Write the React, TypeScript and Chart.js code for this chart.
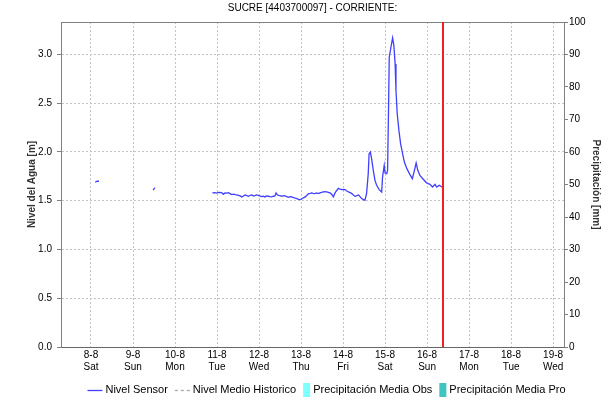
import React, { useEffect, useRef } from "react";
import { Chart, registerables } from "chart.js";

Chart.register(...registerables);

const TITLE = "SUCRE [4403700097] - CORRIENTE:";
const LEFT_AXIS_TITLE = "Nivel del Agua [m]";
const RIGHT_AXIS_TITLE = "Precipitación [mm]";

// x axis: days counted from 8-8 00:00
const dayDates = ["8-8", "9-8", "10-8", "11-8", "12-8", "13-8", "14-8", "15-8", "16-8", "17-8", "18-8", "19-8"];
const dayNames = ["Sat", "Sun", "Mon", "Tue", "Wed", "Thu", "Fri", "Sat", "Sun", "Mon", "Tue", "Wed"];
const xRange = [-0.714, 11.26];
const nowDay = 8.39;

const levelRange = [0, 3.333];
const levelStep = 0.5;
const precipRange = [0, 100];
const precipStep = 10;

// Nivel Sensor (null level = gap in the record)
const sensorDays = [
  0.1, 0.145, 0.19, 0.8,
  1.48, 1.52, 2.2,
  2.89, 2.95, 2.99, 3.04, 3.11, 3.15, 3.19, 3.23, 3.27, 3.31, 3.35, 3.39, 3.43, 3.47, 3.51, 3.55, 3.59, 3.63,
  3.67, 3.71, 3.75, 3.79, 3.83, 3.87, 3.9, 3.94, 3.98, 4.02, 4.06, 4.1, 4.14, 4.18, 4.22, 4.26, 4.3, 4.34,
  4.38, 4.405, 4.43, 4.46, 4.5, 4.54, 4.58, 4.62, 4.66, 4.7, 4.74, 4.78, 4.82, 4.86, 4.9, 4.94, 4.99, 5.04,
  5.1, 5.14, 5.18, 5.22, 5.25, 5.29, 5.33, 5.37, 5.41, 5.45, 5.49, 5.53, 5.57, 5.61, 5.65, 5.69, 5.73, 5.77,
  5.81, 5.85, 5.89, 5.93, 5.97, 6.01, 6.05, 6.09, 6.13, 6.17, 6.21, 6.25, 6.29, 6.33, 6.37, 6.41, 6.44, 6.49,
  6.52, 6.56, 6.6, 6.62, 6.65, 6.68, 6.72, 6.76, 6.8, 6.86, 6.92, 6.94, 6.98, 7.0, 7.04, 7.06, 7.08, 7.1,
  7.14, 7.18, 7.21, 7.24, 7.26, 7.29, 7.33, 7.37, 7.41, 7.46, 7.52, 7.58, 7.65, 7.7, 7.74, 7.78, 7.83, 7.91,
  7.99, 8.07, 8.13, 8.19, 8.23, 8.29, 8.33, 8.38,
];
const sensorLevels = [
  1.69, 1.7, 1.7, null,
  1.61, 1.635, null,
  1.58, 1.583, 1.578, 1.586, 1.583, 1.566, 1.58, 1.578, 1.583, 1.573, 1.563, 1.568, 1.563, 1.56, 1.556, 1.549, 1.539, 1.549,
  1.559, 1.552, 1.546, 1.556, 1.559, 1.549, 1.552, 1.559, 1.556, 1.549, 1.542, 1.546, 1.539, 1.549, 1.546, 1.542, 1.539, 1.546,
  1.549, 1.58, 1.563, 1.556, 1.552, 1.546, 1.552, 1.549, 1.542, 1.535, 1.542, 1.539, 1.532, 1.528, 1.522, 1.515, 1.511, 1.525,
  1.539, 1.556, 1.573, 1.576, 1.58, 1.576, 1.573, 1.58, 1.573, 1.58, 1.586, 1.59, 1.593, 1.59, 1.586, 1.58, 1.566, 1.539,
  1.58, 1.605, 1.627, 1.62, 1.614, 1.617, 1.614, 1.6, 1.59, 1.583, 1.573, 1.556, 1.546, 1.552, 1.559, 1.54, 1.522, 1.512,
  1.505, 1.573, 1.778, 1.982, 1.999, 1.931, 1.812, 1.709, 1.658, 1.614, 1.59, 1.743, 1.863, 1.784, 1.778, 1.812, 2.357, 2.972,
  3.074, 3.17, 3.091, 2.903, 2.63, 2.392, 2.221, 2.085, 1.999, 1.897, 1.829, 1.778, 1.726, 1.812, 1.887, 1.812, 1.76, 1.72,
  1.682, 1.668, 1.641, 1.668, 1.641, 1.658, 1.648, 1.634,
];

// Nivel Medio Historico and precipitation: no values in this period
const historicDays: number[] = [];
const historicLevels: number[] = [];
const precipObsDays: number[] = [];
const precipObsValues: number[] = [];
const precipProDays: number[] = [];
const precipProValues: number[] = [];

const FONT = "'Liberation Sans', Arial, sans-serif";
const SENSOR_COLOR = "rgb(64,64,255)";
const HIST_COLOR = "#a8a8a8";
const OBS_COLOR = "#80ffff";
const PRO_COLOR = "#40c4c0";
const GRID_COLOR = "#c4c4c4";
const AXIS_COLOR = "#808080";
const NOW_COLOR = "#f02020";

const pairs = (xs: number[], ys: (number | null)[]) => xs.map((x, i) => ({ x, y: ys[i] }));

const framePlugin = {
  id: "frameAndNow",
  afterDatasetsDraw(chart: any) {
    const { ctx, chartArea, scales } = chart;
    ctx.save();
    ctx.setLineDash([]);
    ctx.strokeStyle = AXIS_COLOR;
    ctx.lineWidth = 1;
    ctx.beginPath();
    ctx.moveTo(chartArea.left, chartArea.top + 0.5);
    ctx.lineTo(chartArea.right, chartArea.top + 0.5);
    ctx.stroke();
    const xNow = Math.round(scales.x.getPixelForValue(nowDay));
    ctx.strokeStyle = NOW_COLOR;
    ctx.lineWidth = 2;
    ctx.beginPath();
    ctx.moveTo(xNow, chartArea.top);
    ctx.lineTo(xNow, chartArea.bottom);
    ctx.stroke();
    ctx.restore();
  },
};

const titleLegendPlugin = {
  id: "titleLegend",
  afterDraw(chart: any) {
    const { ctx, chartArea } = chart;
    ctx.save();
    ctx.fillStyle = "#000";
    ctx.font = `10px ${FONT}`;
    ctx.textAlign = "center";
    ctx.textBaseline = "middle";
    ctx.fillText(TITLE, (chartArea.left + chartArea.right) / 2, 8.5);

    ctx.font = `11px ${FONT}`;
    ctx.textAlign = "left";
    const items = chart.data.datasets.map((ds: any) => ({
      label: ds.label,
      kind: ds.type === "bar" ? "box" : "line",
      color: ds.type === "bar" ? ds.backgroundColor : ds.borderColor,
      dash: ds.borderDash || [],
    }));
    const symW = (k: string) => (k === "box" ? 7 : 15);
    const gapSym = 3;
    const gapItem = 7;
    let total = 0;
    items.forEach((it: any, i: number) => {
      total += symW(it.kind) + gapSym + ctx.measureText(it.label).width + (i < items.length - 1 ? gapItem : 0);
    });
    let x = chart.width / 2 + 20 - total / 2;
    const y = 390;
    items.forEach((it: any) => {
      if (it.kind === "line") {
        ctx.strokeStyle = it.color;
        ctx.lineWidth = 1.3;
        ctx.setLineDash(it.dash);
        ctx.beginPath();
        ctx.moveTo(x, y + 0.5);
        ctx.lineTo(x + 15, y + 0.5);
        ctx.stroke();
        ctx.setLineDash([]);
      } else {
        ctx.fillStyle = it.color;
        ctx.fillRect(x, y - 7, 7, 14);
      }
      x += symW(it.kind) + gapSym;
      ctx.fillStyle = "#000";
      ctx.fillText(it.label, x, y);
      x += ctx.measureText(it.label).width + gapItem;
    });
    ctx.restore();
  },
};

export default function App() {
  const ref = useRef<HTMLCanvasElement | null>(null);
  useEffect(() => {
    if (!ref.current) return;
    const chart = new Chart(ref.current, {
      type: "line",
      data: {
        datasets: [
          {
            label: "Nivel Sensor",
            data: pairs(sensorDays, sensorLevels) as any,
            borderColor: SENSOR_COLOR,
            backgroundColor: SENSOR_COLOR,
            borderWidth: 1.3,
            pointRadius: 0,
            tension: 0,
            spanGaps: false,
            yAxisID: "y",
          },
          {
            label: "Nivel Medio Historico",
            data: pairs(historicDays, historicLevels) as any,
            borderColor: HIST_COLOR,
            backgroundColor: HIST_COLOR,
            borderDash: [3, 3],
            borderWidth: 1,
            pointRadius: 0,
            yAxisID: "y",
          },
          {
            type: "bar" as any,
            label: "Precipitación Media Obs",
            data: pairs(precipObsDays, precipObsValues) as any,
            backgroundColor: OBS_COLOR,
            borderColor: OBS_COLOR,
            yAxisID: "y2",
          },
          {
            type: "bar" as any,
            label: "Precipitación Media Pro",
            data: pairs(precipProDays, precipProValues) as any,
            backgroundColor: PRO_COLOR,
            borderColor: PRO_COLOR,
            yAxisID: "y2",
          },
        ],
      },
      options: {
        responsive: false,
        animation: false,
        devicePixelRatio: 1,
        layout: { padding: { top: 22, bottom: 23, left: 0, right: 0 } },
        plugins: { legend: { display: false }, title: { display: false }, tooltip: { enabled: false } },
        scales: {
          x: {
            type: "linear",
            min: xRange[0],
            max: xRange[1],
            offset: false,
            afterBuildTicks: (s: any) => {
              s.ticks = dayDates.map((_, i) => ({ value: i }));
            },
            afterFit: (s: any) => {
              s.height = 32;
            },
            ticks: {
              autoSkip: false,
              maxRotation: 0,
              padding: 2,
              color: "#000",
              font: { family: FONT, size: 10 },
              callback: (v: any) => {
                const i = Math.round(Number(v));
                return [dayDates[i], dayNames[i]];
              },
            },
            grid: { color: GRID_COLOR, drawTicks: false, offset: false },
            border: { color: "#666666", dash: [2, 2] },
          },
          y: {
            type: "linear",
            position: "left",
            min: levelRange[0],
            max: levelRange[1],
            afterFit: (s: any) => {
              s.width = 61;
            },
            ticks: {
              stepSize: levelStep,
              includeBounds: false,
              padding: 5,
              color: "#000",
              font: { family: FONT, size: 10 },
              callback: (v: any) => Number(v).toFixed(1),
            },
            grid: { color: GRID_COLOR, tickLength: 4, tickColor: AXIS_COLOR, tickBorderDash: [] },
            border: { color: AXIS_COLOR, dash: [2, 2] },
            title: {
              display: true,
              text: LEFT_AXIS_TITLE,
              color: "#333",
              font: { family: FONT, size: 10, weight: "bold" },
              padding: { top: 26, bottom: 0 },
            },
          },
          y2: {
            type: "linear",
            position: "right",
            min: precipRange[0],
            max: precipRange[1],
            afterFit: (s: any) => {
              s.width = 49;
            },
            ticks: {
              stepSize: precipStep,
              padding: 1,
              color: "#000",
              font: { family: FONT, size: 10 },
            },
            grid: { drawOnChartArea: false, tickLength: 4, tickColor: AXIS_COLOR },
            border: { color: AXIS_COLOR },
            title: {
              display: true,
              text: RIGHT_AXIS_TITLE,
              color: "#333",
              font: { family: FONT, size: 10, weight: "bold" },
              padding: { top: 11, bottom: 0 },
            },
          },
        },
      },
      plugins: [framePlugin, titleLegendPlugin],
    });
    return () => chart.destroy();
  }, []);
  return (
    <div style={{ position: "fixed", left: 0, top: 0, width: 613, height: 402, background: "#fff" }}>
      <canvas ref={ref} width={613} height={402} style={{ display: "block" }} />
    </div>
  );
}
